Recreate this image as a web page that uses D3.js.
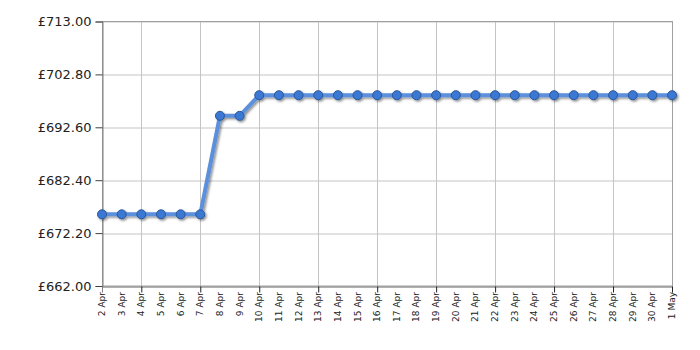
<!DOCTYPE html>
<html>
<head>
<meta charset="utf-8">
<script src="https://cdn.jsdelivr.net/npm/d3@7"></script>
<style>
  body { margin: 0; background: #fff; }
  svg { display: block; }
</style>
</head>
<body>
<div id="chart"></div>
<script>
var width = 700
var height = 350

// dates along the bottom and the price on each of them
var dates = ["2 Apr","3 Apr","4 Apr","5 Apr","6 Apr","7 Apr","8 Apr","9 Apr","10 Apr","11 Apr",
  "12 Apr","13 Apr","14 Apr","15 Apr","16 Apr","17 Apr","18 Apr","19 Apr","20 Apr","21 Apr",
  "22 Apr","23 Apr","24 Apr","25 Apr","26 Apr","27 Apr","28 Apr","29 Apr","30 Apr","1 May"]
var prices = [675.82,675.82,675.82,675.82,675.82,675.82,694.81,694.81,698.79,698.79,
  698.79,698.79,698.79,698.79,698.79,698.79,698.79,698.79,698.79,698.79,
  698.79,698.79,698.79,698.79,698.79,698.79,698.79,698.79,698.79,698.79]
var yTicks = [662.00, 672.20, 682.40, 692.60, 702.80, 713.00]
// every third date gets a tick and a grid line
var gridDates = ["4 Apr","7 Apr","10 Apr","13 Apr","16 Apr","19 Apr","22 Apr","25 Apr","28 Apr","1 May"]

var margin = {top: 21.5, right: 28, bottom: 64, left: 102}
var innerWidth = width - margin.left - margin.right
var innerHeight = height - margin.top - margin.bottom

var svg = d3.select("#chart")
  .append("svg")
    .attr("width", width)
    .attr("height", height)

var defs = svg.append("defs")
var f = defs.append("filter").attr("id", "shadow")
  .attr("x", "-20%").attr("y", "-20%").attr("width", "140%").attr("height", "140%")
f.append("feDropShadow")
  .attr("dx", 1.5).attr("dy", 1.5).attr("stdDeviation", 1)
  .attr("flood-color", "#000").attr("flood-opacity", 0.45)

var xScale = d3.scalePoint()
  .domain(dates)
  .range([0, innerWidth])

var yScale = d3.scaleLinear()
  .domain([yTicks[0], yTicks[yTicks.length - 1]])
  .range([innerHeight, 0])

var g = svg.append("g")
  .attr("transform", `translate(${margin.left},${margin.top})`)

// horizontal grid
g.append("g").selectAll("line").data(yTicks).enter().append("line")
  .attr("x1", 0).attr("x2", innerWidth)
  .attr("y1", d => Math.round(yScale(d)) + 0.5)
  .attr("y2", d => Math.round(yScale(d)) + 0.5)
  .attr("stroke", "#c4c4c4")

// vertical grid
g.append("g").selectAll("line").data(gridDates).enter().append("line")
  .attr("x1", d => Math.round(xScale(d)) + 0.5)
  .attr("x2", d => Math.round(xScale(d)) + 0.5)
  .attr("y1", 0).attr("y2", innerHeight)
  .attr("stroke", "#c4c4c4")

// frame
g.append("rect")
  .attr("x", 0.5).attr("y", 0)
  .attr("width", innerWidth).attr("height", innerHeight)
  .attr("fill", "none").attr("stroke", "#a0a0a0")

// y axis
var yAxis = d3.axisLeft(yScale)
  .tickValues(yTicks)
  .tickSize(7)
  .tickPadding(4)
  .tickFormat(d => "£" + d3.format(".2f")(d))
var ya = g.append("g").attr("transform", "translate(0.5,0)").call(yAxis)
ya.select(".domain").attr("stroke", "#808080")
ya.selectAll(".tick line").attr("stroke", "#404040")
ya.selectAll("text")
  .attr("font-family", "'DejaVu Sans', Verdana, sans-serif")
  .attr("font-size", 13)
  .attr("fill", "#222")

// x axis: line plus ticks on every third date
var xAxis = d3.axisBottom(xScale).tickValues(gridDates).tickSize(6).tickFormat("")
var xa = g.append("g").attr("transform", `translate(0,${innerHeight + 0.5})`).call(xAxis)
xa.select(".domain").attr("stroke", "#808080")
xa.selectAll(".tick line").attr("stroke", "#202020")

// rotated date labels
g.append("g").selectAll("text").data(dates).enter().append("text")
  .attr("transform", d => `translate(${xScale(d) + 3},${innerHeight + 6}) rotate(-90)`)
  .attr("text-anchor", "end")
  .attr("font-family", "'DejaVu Sans', Verdana, sans-serif")
  .attr("font-size", 9)
  .attr("fill", "#222")
  .text(d => d)

// price line with points
var line = d3.line()
  .x((d, i) => xScale(dates[i]))
  .y(d => yScale(d))

var series = g.append("g").attr("filter", "url(#shadow)")
series.append("path")
  .datum(prices)
  .attr("d", line)
  .attr("fill", "none")
  .attr("stroke", "#5c90dc")
  .attr("stroke-width", 4)
  .attr("stroke-linejoin", "round")

series.selectAll("circle").data(prices).enter().append("circle")
  .attr("cx", (d, i) => xScale(dates[i]))
  .attr("cy", d => yScale(d))
  .attr("r", 4.5)
  .attr("fill", "#3a78d4")
  .attr("stroke", "#2a5698")
  .attr("stroke-width", 1)
</script>
</body>
</html>
